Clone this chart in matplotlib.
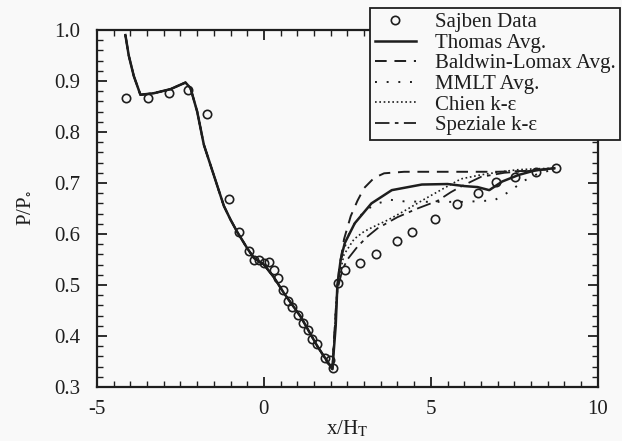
import numpy as np
import matplotlib
matplotlib.use("Agg")
import matplotlib.pyplot as plt
from matplotlib.ticker import MultipleLocator

plt.rcParams['font.family'] = ['Liberation Serif', 'DejaVu Serif']
plt.rcParams['mathtext.fontset'] = 'stix'
plt.rcParams['axes.unicode_minus'] = False

# Sajben experimental data
data_x = [-4.13, -3.46, -2.83, -2.26, -1.72, -1.05, -0.74, -0.46, -0.29, -0.14, 0.01, 0.16,
          0.29, 0.43, 0.56, 0.71, 0.84, 1.01, 1.16, 1.31, 1.44, 1.59, 1.82, 1.97, 2.07,
          2.21, 2.44, 2.89, 3.35, 3.99, 4.43, 5.11, 5.78, 6.41, 6.94, 7.52, 8.14, 8.74]
data_y = [0.866, 0.866, 0.876, 0.882, 0.836, 0.668, 0.603, 0.567, 0.550, 0.549, 0.544, 0.545,
          0.529, 0.513, 0.490, 0.469, 0.457, 0.441, 0.425, 0.412, 0.394, 0.384, 0.356, 0.353, 0.337,
          0.503, 0.529, 0.544, 0.561, 0.586, 0.603, 0.629, 0.659, 0.680, 0.702, 0.712, 0.722, 0.729]

# upstream part, shared by all computations
up_x = [-4.15, -4.05, -3.9, -3.7, -3.3, -2.8, -2.35, -2.2, -2.0, -1.8, -1.65, -1.4, -1.2,
        -1.0, -0.8, -0.5, -0.3, 0.0, 0.3, 0.6, 1.1, 1.6, 1.85, 2.05]
up_y = [0.99, 0.95, 0.91, 0.873, 0.876, 0.884, 0.897, 0.886, 0.84, 0.775, 0.745, 0.695, 0.655,
        0.628, 0.604, 0.572, 0.553, 0.540, 0.515, 0.484, 0.438, 0.380, 0.355, 0.335]

# downstream of the throat
thomas_x = [2.15, 2.2, 2.3, 2.42, 2.72, 3.22, 3.83, 4.73, 5.5, 6.0, 6.4, 6.75, 7.14, 7.64, 8.14, 8.7]
thomas_y = [0.42, 0.50, 0.55, 0.582, 0.621, 0.660, 0.686, 0.697, 0.698, 0.694, 0.692, 0.686, 0.703, 0.716, 0.725, 0.729]

bl_x = [2.15, 2.25, 2.4, 2.6, 2.8, 3.0, 3.3, 3.6, 4.2, 5.0, 6.0, 7.0, 8.0, 8.7]
bl_y = [0.45, 0.53, 0.59, 0.635, 0.665, 0.69, 0.71, 0.719, 0.722, 0.722, 0.722, 0.722, 0.724, 0.728]

mmlt_x = [2.2, 2.35, 2.6, 3.0, 3.4, 3.8, 4.2, 5.0, 6.0, 6.9, 7.4, 7.75, 8.2, 8.7]
mmlt_y = [0.50, 0.56, 0.61, 0.645, 0.66, 0.667, 0.664, 0.663, 0.663, 0.666, 0.685, 0.703, 0.718, 0.727]

chien_x = [2.2, 2.4, 2.7, 3.0, 3.4, 3.7, 4.2, 4.8, 5.4, 5.9, 6.5, 7.1, 7.6, 8.2, 8.7]
chien_y = [0.50, 0.56, 0.59, 0.605, 0.618, 0.627, 0.645, 0.668, 0.69, 0.708, 0.716, 0.722, 0.726, 0.728, 0.729]

spez_x = [2.2, 2.35, 2.5, 2.8, 3.1, 3.4, 3.7, 4.0, 4.6, 5.2, 5.6, 5.9, 6.5, 7.2, 8.0, 8.7]
spez_y = [0.49, 0.53, 0.55, 0.575, 0.595, 0.611, 0.622, 0.633, 0.650, 0.665, 0.682, 0.693, 0.712, 0.72, 0.724, 0.728]

col = '#1e1e1e'
fig = plt.figure(figsize=(6.22, 4.41), dpi=100, facecolor='#f9f9f9')
ax = fig.add_axes([0.156, 0.1224, 0.805, 0.8096], facecolor='#f9f9f9')

ax.plot(data_x, data_y, 'o', mfc='none', mec=col, ms=6, mew=1.2, label='Sajben Data')
ax.plot(up_x + thomas_x, up_y + thomas_y, '-', color=col, lw=1.8, label='Thomas Avg.')
ax.plot(up_x + bl_x, up_y + bl_y, color=col, lw=1.4, dashes=(6, 4), label='Baldwin-Lomax Avg.')
ax.plot(up_x + mmlt_x, up_y + mmlt_y, color=col, lw=1.4, dashes=(1, 5), label='MMLT Avg.')
ax.plot(up_x + chien_x, up_y + chien_y, color=col, lw=1.2, dashes=(1, 1.6), label='Chien k-ε')
ax.plot(up_x + spez_x, up_y + spez_y, color=col, lw=1.3, dashes=(8, 3, 2, 3), label='Speziale k-ε')

ax.set_xlim(-5, 10)
ax.set_ylim(0.3, 1.0)
ax.set_xticks([-5, 0, 5, 10])
ax.set_yticks(np.arange(0.3, 1.01, 0.1))
ax.set_yticklabels(['%.1f' % v for v in np.arange(0.3, 1.01, 0.1)])
ax.xaxis.set_minor_locator(MultipleLocator(0.5))
ax.yaxis.set_minor_locator(MultipleLocator(0.02))
ax.tick_params(which='both', direction='in', top=True, right=True, labelsize=15, colors=col)
ax.tick_params(axis='y', pad=12)
ax.tick_params(axis='x', pad=9)
ax.tick_params(which='major', length=7, width=1.3)
ax.tick_params(which='minor', length=4, width=1.0)
for s in ax.spines.values():
    s.set_linewidth(1.6)
    s.set_color(col)

ax.set_xlabel(r'x/H$_{\rm T}$', fontsize=15, color=col, labelpad=0)
ax.set_ylabel(r'P/P$_{\circ}$', fontsize=15, color=col, labelpad=14)

leg = fig.legend(loc='upper left', bbox_to_anchor=(370 / 622, 1 - 8 / 441), fontsize=15,
                 frameon=True, fancybox=False, edgecolor=col, framealpha=1, facecolor='#f9f9f9',
                 labelspacing=0.05, handlelength=2.0, handletextpad=0.9, borderpad=0.22,
                 borderaxespad=0)
leg.get_frame().set_linewidth(1.3)
for t in leg.get_texts():
    t.set_color(col)

fig.savefig('out.png', dpi=100, facecolor=fig.get_facecolor())
